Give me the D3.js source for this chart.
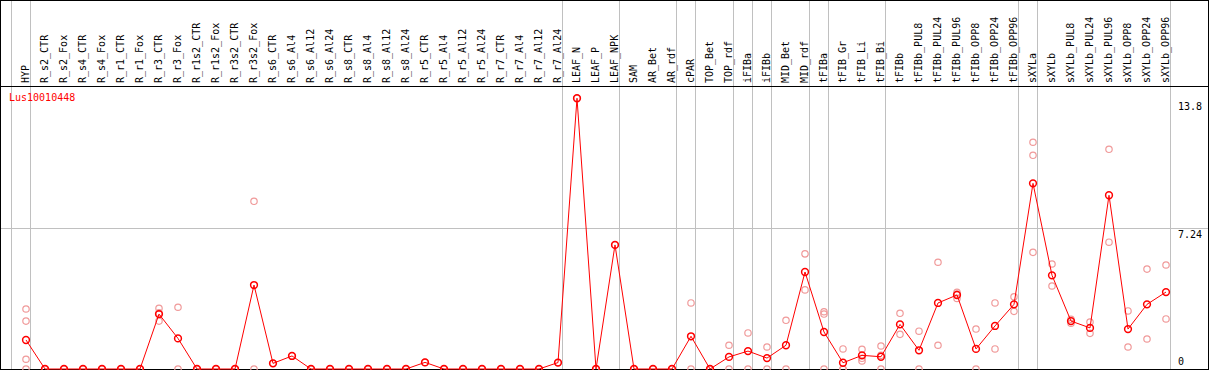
<!DOCTYPE html>
<html>
<head>
<meta charset="utf-8">
<script src="https://cdn.jsdelivr.net/npm/d3@7"></script>
<style>
  body { margin: 0; background: #fff; }
  text { font-family: "DejaVu Sans Mono", monospace; font-size: 10px; }
</style>
</head>
<body>
<div id="chart"></div>
<script>
var categories = ["HYP", "R_s2_CTR", "R_s2_Fox", "R_s4_CTR", "R_s4_Fox", "R_r1_CTR", "R_r1_Fox",
  "R_r3_CTR", "R_r3_Fox", "R_r1s2_CTR", "R_r1s2_Fox", "R_r3s2_CTR", "R_r3s2_Fox", "R_s6_CTR",
  "R_s6_Al4", "R_s6_Al12", "R_s6_Al24", "R_s8_CTR", "R_s8_Al4", "R_s8_Al12", "R_s8_Al24",
  "R_r5_CTR", "R_r5_Al4", "R_r5_Al12", "R_r5_Al24", "R_r7_CTR", "R_r7_Al4", "R_r7_Al12",
  "R_r7_Al24", "LEAF_N", "LEAF_P", "LEAF_NPK", "SAM", "AR_Bet", "AR_rdf", "cPAR", "TOP_Bet",
  "TOP_rdf", "iFIBa", "iFIBb", "MID_Bet", "MID_rdf", "tFIBa", "tFIB_Gr", "tFIB_Li", "tFIB_Bi",
  "tFIBb", "tFIBb_PUL8", "tFIBb_PUL24", "tFIBb_PUL96", "tFIBb_OPP8", "tFIBb_OPP24", "tFIBb_OPP96",
  "sXYLa", "sXYLb", "sXYLb_PUL8", "sXYLb_PUL24", "sXYLb_PUL96", "sXYLb_OPP8", "sXYLb_OPP24",
  "sXYLb_OPP96"];

// mean expression per sample
var means = [1.49, 0, 0, 0, 0, 0, 0,
  2.82, 1.57, 0, 0, 0, 4.31, 0.29,
  0.67, 0, 0, 0, 0, 0, 0,
  0.34, 0, 0, 0, 0, 0, 0,
  0.33, 13.9, 0, 6.37, 0, 0, 0, 1.68, 0,
  0.62, 0.92, 0.56, 1.22, 4.98, 1.90, 0.32, 0.70, 0.63,
  2.29, 0.96, 3.39, 3.80, 1.03, 2.21, 3.32,
  9.53, 4.81, 2.46, 2.11, 8.92, 2.05, 3.32,
  3.95];

// individual replicates
var replicates = [[3.08, 2.46, 0.50, 0], [0, 0], [0, 0], [0, 0], [0, 0], [0, 0], [0, 0],
  [3.12, 2.88, 2.46], [3.17, 0], [0, 0], [0, 0], [0, 0], [8.61, 0], [0.29],
  [0.67], [0, 0], [0, 0], [0, 0], [0, 0], [0, 0], [0, 0],
  [0.34], [0, 0], [0, 0], [0, 0], [0, 0], [0, 0], [0, 0],
  [0.33], [13.9], [0, 0], [6.37], [0, 0], [0, 0], [0, 0], [3.39, 0], [0, 0],
  [1.22, 0], [1.85, 0], [1.13, 0], [2.50, 0], [5.91, 4.06], [2.94, 2.82, 0], [1.03, 0, 0], [1.01, 0.55, 0.41], [1.18, 0.70, 0],
  [2.86, 1.78], [1.94, 0], [5.48, 1.22], [3.94, 3.85, 3.62], [2.05, 0], [3.39, 1.03], [3.71, 2.96],
  [11.64, 10.97, 5.99], [5.39, 4.26], [2.55, 2.35], [2.41, 1.83], [11.28, 6.51], [2.98, 1.13], [5.13, 1.54],
  [5.34, 2.57]];

// group separators (index of the sample a line sits before)
var separators = [0, 1, 29, 32, 35, 36, 38, 39, 40, 42, 43, 46, 53, 54, 61];
var yTicks = [0, 7.24, 13.8];
var title = "Lus10010448";

var width = 1209, height = 370;
var headerH = 86;

var svg = d3.select("#chart").append("svg")
  .attr("width", width)
  .attr("height", height);

var x = d3.scaleBand().domain(categories).range([11, 11 + 19 * categories.length]);
var px = function (c) { return x(c) + 15; };
var y = d3.scaleLinear().domain([0, 13.8]).range([369, 100.2]);

// separators
svg.append("g").selectAll("line")
  .data(separators)
  .enter().append("line")
  .attr("x1", function (k) { return 11 + x.step() * k + 0.5; })
  .attr("x2", function (k) { return 11 + x.step() * k + 0.5; })
  .attr("y1", 0).attr("y2", 369)
  .attr("stroke", "#c0c0c0")
  .attr("shape-rendering", "crispEdges");

// horizontal grid
svg.append("g").selectAll("line")
  .data(yTicks.filter(function (t) { return t > 0 && t < 13.8; }))
  .enter().append("line")
  .attr("x1", 1).attr("x2", 1208)
  .attr("y1", function (t) { return Math.round(y(t)) + 0.5; })
  .attr("y2", function (t) { return Math.round(y(t)) + 0.5; })
  .attr("stroke", "#c0c0c0")
  .attr("shape-rendering", "crispEdges");

// frame
var frame = svg.append("g").attr("stroke", "#000").attr("shape-rendering", "crispEdges");
frame.append("rect").attr("x", 0.5).attr("y", 0.5).attr("width", 1207.5).attr("height", 368.5).attr("fill", "none");
frame.append("line").attr("x1", 0).attr("x2", 1208).attr("y1", headerH + 0.5).attr("y2", headerH + 0.5);

// sample labels
svg.append("g").selectAll("text")
  .data(categories)
  .enter().append("text")
  .attr("transform", function (c) { return "translate(" + (px(c) + 3) + ",83) rotate(-90)"; })
  .attr("fill", "#000")
  .text(function (c) { return c; });

// right axis labels
svg.append("g").selectAll("text")
  .data(yTicks)
  .enter().append("text")
  .attr("x", 1178)
  .attr("y", function (t) { return t === 0 ? y(t) - 4 : y(t) + 10; })
  .attr("fill", "#000")
  .text(function (t) { return t; });

// title
svg.append("text")
  .attr("x", 9).attr("y", 101)
  .attr("fill", "#ff0000")
  .text(title);

// replicate circles
var repPts = [];
categories.forEach(function (c, i) {
  replicates[i].forEach(function (v) { repPts.push({ c: c, v: v }); });
});
svg.append("g").selectAll("circle")
  .data(repPts)
  .enter().append("circle")
  .attr("cx", function (d) { return px(d.c); })
  .attr("cy", function (d) { return y(d.v); })
  .attr("r", 3.2)
  .attr("fill", "none")
  .attr("stroke", "#f09a9a")
  .attr("stroke-width", 1.2);

// mean line
var line = d3.line()
  .x(function (d, i) { return px(categories[i]); })
  .y(function (d) { return y(d); });
svg.append("path")
  .datum(means)
  .attr("d", line)
  .attr("fill", "none")
  .attr("stroke", "#ff0000")
  .attr("stroke-width", 1);

svg.append("g").selectAll("circle")
  .data(means)
  .enter().append("circle")
  .attr("cx", function (d, i) { return px(categories[i]); })
  .attr("cy", function (d) { return y(d); })
  .attr("r", 3.4)
  .attr("fill", "none")
  .attr("stroke", "#ff0000")
  .attr("stroke-width", 1.5);
</script>
</body>
</html>
